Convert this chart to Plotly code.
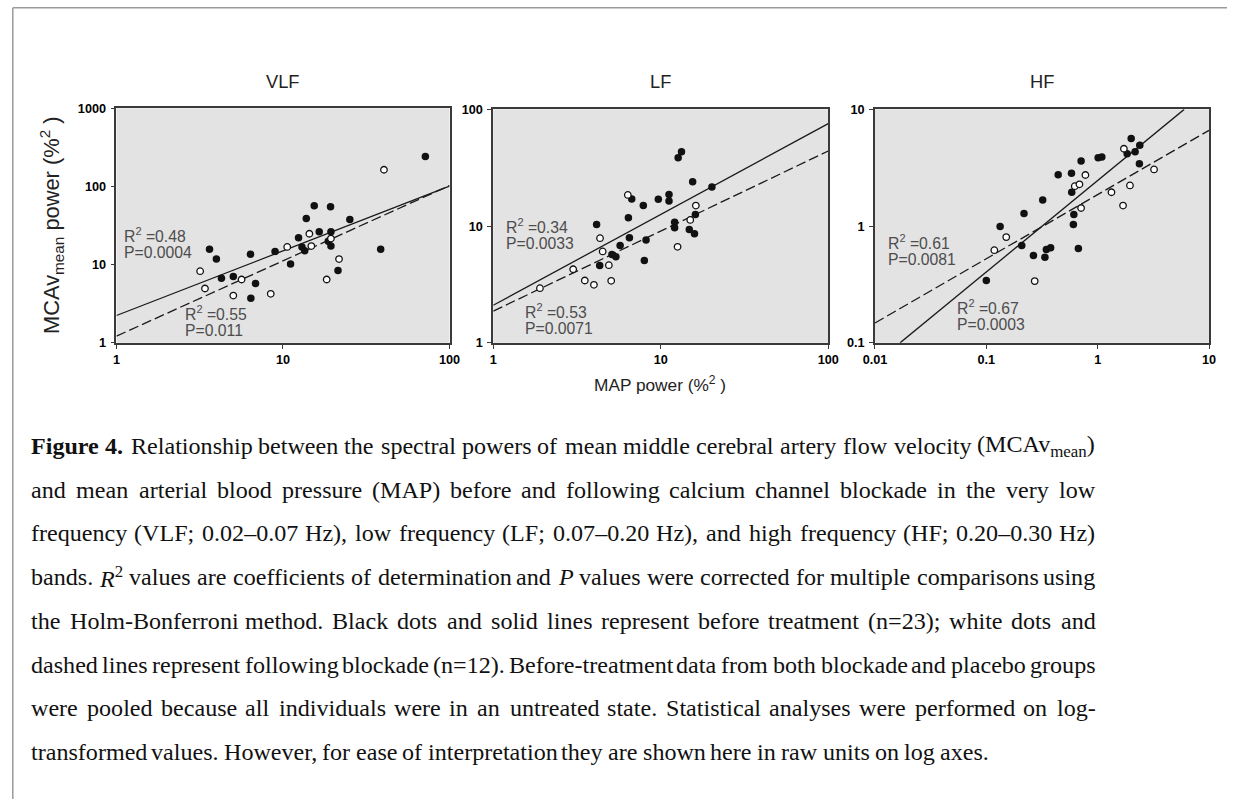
import re
import math
import plotly.graph_objects as go

W, H = 1238, 806
# The photographed page shows the figure with an 8px white border and scaled back to
# 1238x806; positions below are given in reference-picture pixels and converted.
PAD = 8
SX = (W + 2 * PAD) / W
SY = (H + 2 * PAD) / H
FK = (SX + SY) / 2  # font compensation

# ---------------- data ----------------
panel_titles = ["VLF", "LF", "HF"]

vlf_before_x = [71.6, 3.62, 3.98, 4.27, 5.03, 6.38, 6.41, 6.84, 8.96, 11.1, 12.4, 13.0,
                13.5, 13.8, 15.4, 16.5, 19.3, 19.4, 18.7, 19.4, 21.4, 25.2, 38.6]
vlf_before_y = [243, 15.8, 11.8, 6.7, 7.06, 13.6, 3.73, 5.75, 14.8, 10.2, 22.1, 16.8,
                15.1, 39.1, 56.7, 26.4, 55.1, 26.4, 20.0, 17.3, 8.43, 37.9, 15.8]
vlf_after_x = [40.4, 3.18, 3.40, 5.03, 5.64, 8.44, 10.6, 14.4, 14.8, 19.4, 21.7, 18.3]
vlf_after_y = [164, 8.26, 4.96, 4.03, 6.47, 4.24, 16.9, 24.9, 17.3, 21.6, 11.8, 6.47]
vlf_fit_x = [1, 100]
vlf_fit_before_y = [2.24, 101]
vlf_fit_after_y = [1.22, 103]

lf_before_x = [13.3, 12.7, 20.2, 15.5, 9.67, 11.2, 11.2, 7.87, 6.71, 6.41, 6.50, 4.14,
               5.72, 5.11, 5.40, 4.32, 7.98, 8.17, 12.1, 12.1, 14.8, 15.9, 16.1]
lf_before_y = [43.4, 38.5, 21.6, 24.0, 17.0, 18.7, 16.4, 15.0, 17.1, 11.8, 7.94, 10.3,
               6.82, 5.71, 5.46, 4.60, 5.08, 7.59, 10.8, 9.68, 9.36, 8.59, 12.6]
lf_after_x = [6.36, 4.34, 4.50, 4.90, 5.06, 3.52, 3.99, 3.0, 1.90, 12.6, 15.0, 16.2]
lf_after_y = [18.5, 7.89, 6.07, 4.63, 3.40, 3.42, 3.14, 4.27, 2.94, 6.65, 11.3, 15.0]
lf_fit_x = [1, 100]
lf_fit_before_y = [2.10, 75.4]
lf_fit_after_y = [1.87, 44.0]

hf_before_x = [0.100, 0.133, 0.218, 0.208, 0.265, 0.321, 0.336, 0.346, 0.378, 0.442, 0.582, 0.585,
               0.611, 0.605, 0.671, 0.710, 1.01, 1.09, 2.0, 1.84, 2.17, 2.39, 2.37]
hf_before_y = [0.342, 0.994, 1.28, 0.683, 0.561, 1.67, 0.542, 0.631, 0.652, 2.75, 2.84, 1.95,
               1.26, 1.03, 0.644, 3.61, 3.85, 3.90, 5.64, 4.17, 4.34, 4.92, 3.42]
hf_after_x = [0.118, 0.151, 0.272, 0.623, 0.686, 0.776, 0.71, 1.72, 1.33, 1.95, 1.69, 3.21]
hf_after_y = [0.622, 0.805, 0.338, 2.20, 2.28, 2.74, 1.43, 4.60, 1.95, 2.23, 1.50, 3.06]
hf_fit_before_x = [0.0168, 5.98]
hf_fit_before_y = [0.1, 10]
hf_fit_after_x = [0.01, 10]
hf_fit_after_y = [0.148, 6.61]

x_tickvals = [[1, 10, 100], [1, 10, 100], [0.01, 0.1, 1, 10]]
x_ticktext = [["1", "10", "100"], ["1", "10", "100"], ["0.01", "0.1", "1", "10"]]
y_tickvals = [[1, 10, 100, 1000], [1, 10, 100], [0.1, 1, 10]]
y_ticktext = [["1", "10", "100", "1000"], ["1", "10", "100"], ["0.1", "1", "10"]]
x_ranges = [[1, 100], [1, 100], [0.01, 10]]
y_ranges = [[1, 1000], [1, 100], [0.1, 10]]

stats_before = [("0.48", "0.0004"), ("0.34", "0.0033"), ("0.67", "0.0003")]
stats_after = [("0.55", "0.011"), ("0.53", "0.0071"), ("0.61", "0.0081")]

caption_lines = [
    "<b>Figure</b> <b>4.</b> Relationship between the spectral powers of mean middle cerebral artery flow velocity (MCAv<sub>mean</sub>)",
    "and mean arterial blood pressure (MAP) before and following calcium channel blockade in the very low",
    "frequency (VLF; 0.02–0.07 Hz), low frequency (LF; 0.07–0.20 Hz), and high frequency (HF; 0.20–0.30 Hz)",
    "bands. <i>R</i><sup>2</sup> values are coefficients of determination and <i>P</i> values were corrected for multiple comparisons using",
    "the Holm-Bonferroni method. Black dots and solid lines represent before treatment (n=23); white dots and",
    "dashed lines represent following blockade (n=12). Before-treatment data from both blockade and placebo groups",
    "were pooled because all individuals were in an untreated state. Statistical analyses were performed on log-",
    "transformed values. However, for ease of interpretation they are shown here in raw units on log axes.",
]


# ---------------- helpers: reference pixel -> figure pixel -> paper ----------------
def fxp(px):
    return px * SX - PAD


def fyp(py):
    return py * SY - PAD


def rx(px):
    return fxp(px) / W


def ry(py):
    return 1 - fyp(py) / H


fig = go.Figure()

panels = [
    (vlf_before_x, vlf_before_y, vlf_after_x, vlf_after_y,
     vlf_fit_x, vlf_fit_before_y, vlf_fit_x, vlf_fit_after_y),
    (lf_before_x, lf_before_y, lf_after_x, lf_after_y,
     lf_fit_x, lf_fit_before_y, lf_fit_x, lf_fit_after_y),
    (hf_before_x, hf_before_y, hf_after_x, hf_after_y,
     hf_fit_before_x, hf_fit_before_y, hf_fit_after_x, hf_fit_after_y),
]

x_domains_px = [(113, 448), (492, 829), (876, 1212)]
y_domains_px = [(109, 343), (110, 343), (110, 343)]

LINE_C = "#1a1a1a"
AX_C = "#3a3a3a"

for i, (bx, by, ax, ay, fbx, fby, fax, fay) in enumerate(panels):
    xa = "x" if i == 0 else f"x{i+1}"
    ya = "y" if i == 0 else f"y{i+1}"
    fig.add_trace(go.Scatter(x=fbx, y=fby, mode="lines", xaxis=xa, yaxis=ya,
                             line=dict(color=LINE_C, width=1.3), showlegend=False))
    fig.add_trace(go.Scatter(x=fax, y=fay, mode="lines", xaxis=xa, yaxis=ya,
                             line=dict(color=LINE_C, width=1.3, dash="10px,4px"), showlegend=False))
    fig.add_trace(go.Scatter(x=bx, y=by, mode="markers", xaxis=xa, yaxis=ya,
                             marker=dict(color="#111111", size=7.5, line=dict(width=0)),
                             showlegend=False))
    fig.add_trace(go.Scatter(x=ax, y=ay, mode="markers", xaxis=xa, yaxis=ya,
                             marker=dict(color="white", size=6.5, line=dict(color="#111111", width=1.3)),
                             showlegend=False))

tickfont = dict(family="Liberation Sans, Arial", size=12.5 * FK, color="#000000", weight="bold")
layout = dict(
    width=W, height=H, margin=dict(l=0, r=0, t=0, b=0),
    paper_bgcolor="white", plot_bgcolor="#e3e3e3", showlegend=False,
)
for i in range(3):
    xk = "xaxis" if i == 0 else f"xaxis{i+1}"
    yk = "yaxis" if i == 0 else f"yaxis{i+1}"
    xa = "x" if i == 0 else f"x{i+1}"
    ya = "y" if i == 0 else f"y{i+1}"
    layout[xk] = dict(
        type="log", domain=[rx(x_domains_px[i][0]), rx(x_domains_px[i][1])],
        range=[math.log10(x_ranges[i][0]), math.log10(x_ranges[i][1])],
        anchor=ya, tickvals=x_tickvals[i], ticktext=x_ticktext[i],
        ticks="outside", ticklen=4, tickwidth=1, tickcolor=AX_C,
        showline=True, linecolor=AX_C, linewidth=1.7, mirror=True,
        showgrid=False, zeroline=False, tickfont=tickfont, fixedrange=True,
    )
    layout[yk] = dict(
        type="log", domain=[ry(y_domains_px[i][1]), ry(y_domains_px[i][0])],
        range=[math.log10(y_ranges[i][0]), math.log10(y_ranges[i][1])],
        anchor=xa, tickvals=y_tickvals[i], ticktext=y_ticktext[i],
        ticks="outside", ticklen=4, tickwidth=1, tickcolor=AX_C, ticklabelstandoff=2,
        showline=True, linecolor=AX_C, linewidth=1.7, mirror=True,
        showgrid=False, zeroline=False, tickfont=tickfont, fixedrange=True,
    )
fig.update_layout(**layout)

annotations = []
SANS = "Liberation Sans, Arial"

# panel titles
for i, t in enumerate(panel_titles):
    cx = (x_domains_px[i][0] + x_domains_px[i][1]) / 2
    annotations.append(dict(text=t, x=rx(cx), y=ry(82), xref="paper", yref="paper",
                            xanchor="center", yanchor="middle", showarrow=False,
                            font=dict(family=SANS, size=18 * FK, color="#222222")))

# stats text
stat_pos_before = [(121, 235), (505, 226), (959, 307)]
stat_pos_after = [(182, 313), (524, 311), (889, 242)]
STAT_FONT = dict(family=SANS, size=15.5 * FK, color="#4d4d4d")
for stats, pos in ((stats_before, stat_pos_before), (stats_after, stat_pos_after)):
    for (r2, p), (sx, sy) in zip(stats, pos):
        annotations.append(dict(text=f"R<sup>2</sup> ={r2}", x=rx(sx), y=ry(sy),
                                xref="paper", yref="paper", xanchor="left", yanchor="middle",
                                showarrow=False, font=STAT_FONT, borderpad=0, borderwidth=0))
        annotations.append(dict(text=f"P={p}", x=rx(sx), y=ry(sy + 18),
                                xref="paper", yref="paper", xanchor="left", yanchor="middle",
                                showarrow=False, font=STAT_FONT, borderpad=0, borderwidth=0))

# axis titles
annotations.append(dict(text="MAP power (%<sup>2</sup> )", x=rx(660), y=ry(384),
                        xref="paper", yref="paper", xanchor="center", yanchor="middle",
                        showarrow=False, font=dict(family=SANS, size=17 * FK, color="#222222")))
annotations.append(dict(text="MCAv<sub>mean</sub> power (%<sup>2</sup> )", x=rx(47.5), y=ry(225),
                        xref="paper", yref="paper", xanchor="center", yanchor="middle",
                        textangle=-90, showarrow=False,
                        font=dict(family=SANS, size=21.5 * FK, color="#222222")))

# ---------------- caption (justified, Times metrics) ----------------
TIMES = {" ": 250, "!": 333, "%": 833, "(": 333, ")": 333, ",": 250, "-": 333, ".": 250,
         ":": 278, ";": 278, "=": 564, "–": 500}
for ch in "0123456789":
    TIMES[ch] = 500
TIMES.update(dict(A=722, B=667, C=667, D=722, E=611, F=556, G=722, H=722, I=333, J=389, K=722,
                  L=611, M=889, N=722, O=722, P=556, Q=722, R=667, S=556, T=611, U=722, V=722,
                  W=944, X=722, Y=722, Z=611))
TIMES.update(dict(a=444, b=500, c=444, d=500, e=444, f=333, g=500, h=500, i=278, j=278, k=500,
                  l=278, m=778, n=500, o=500, p=500, q=500, r=333, s=389, t=278, u=500, v=500,
                  w=722, x=500, y=500, z=444))
TIMES_BOLD = dict(TIMES)
TIMES_BOLD.update({"F": 611, "u": 556, "r": 444, "i": 278, "g": 500, "e": 444})
TIMES_ITAL = dict(TIMES)
TIMES_ITAL.update({"R": 611, "P": 611})


def word_width(word, fs):
    total = 0.0
    bold = ital = False
    scale = 1.0
    for tok in re.split(r"(<[^>]+>)", word):
        if not tok:
            continue
        if tok.startswith("<"):
            tag = tok.strip("<>/").lower()
            closing = tok.startswith("</")
            if tag == "b":
                bold = not closing
            elif tag == "i":
                ital = not closing
            elif tag in ("sub", "sup"):
                scale = 1.0 if closing else 0.7
            continue
        table = TIMES_BOLD if bold else (TIMES_ITAL if ital else TIMES)
        for ch in tok:
            total += table.get(ch, 500) * scale
    return total / 1000.0 * fs


CAP_FS = 23.8 * SX
CAP_LEFT, CAP_RIGHT = fxp(27), fxp(1097)
CAP_Y0, CAP_DY = 446, 43.6
CAP_FONT = dict(family="Liberation Serif, Times New Roman, serif", size=CAP_FS, color="#111111")

for li, line in enumerate(caption_lines):
    words = line.split(" ")
    widths = [word_width(w, CAP_FS) for w in words]
    if li < len(caption_lines) - 1:
        gap = (CAP_RIGHT - CAP_LEFT - sum(widths)) / (len(words) - 1)
    else:
        gap = 0.25 * CAP_FS
    xcur = CAP_LEFT
    ycur = CAP_Y0 + li * CAP_DY
    for w, wd in zip(words, widths):
        annotations.append(dict(text=w, x=xcur / W, y=ry(ycur), xref="paper", yref="paper",
                                xanchor="left", yanchor="middle", showarrow=False,
                                font=CAP_FONT, borderpad=0, borderwidth=0))
        xcur += wd + gap

fig.update_layout(annotations=annotations)

# outer frame (top and left edges are visible in the reference), kept inside the paper
FRAME = dict(color="#9a9a9a", width=1.5)
fx0 = max(rx(6.5), 0.8 / W)
fy0 = min(ry(6.5), 1 - 0.8 / H)
fig.add_shape(type="line", xref="paper", yref="paper",
              x0=fx0, y0=fy0, x1=1, y1=fy0, line=FRAME, layer="below")
fig.add_shape(type="line", xref="paper", yref="paper",
              x0=fx0, y0=fy0, x1=fx0, y1=0, line=FRAME, layer="below")

fig.write_html("out.html")
